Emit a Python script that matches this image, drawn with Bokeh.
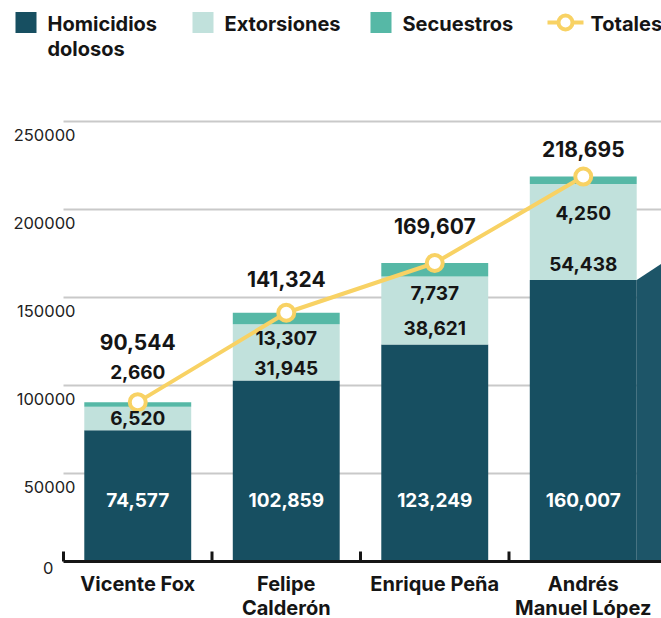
from bokeh.plotting import figure
from bokeh.models import Range1d, ColumnDataSource
from bokeh.embed import file_html
from bokeh.resources import INLINE
from bokeh.core.properties import value

# ---------------- data ----------------
categories = ["Vicente Fox", "Felipe Calderón", "Enrique Peña", "Andrés Manuel López"]
cat_line1 = ["Vicente Fox", "Felipe", "Enrique Peña", "Andrés"]
cat_line2 = ["", "Calderón", "", "Manuel López"]
homicidios = [74577, 102859, 123249, 160007]
extorsiones = [13307, 31945, 38621, 54438]
secuestros = [2660, 6520, 7737, 4250]
totales = [90544, 141324, 169607, 218695]
# labels as printed on the chart
hom_labels = ["74,577", "102,859", "123,249", "160,007"]
ext_labels = ["6,520", "31,945", "38,621", "54,438"]
sec_labels = ["2,660", "13,307", "7,737", "4,250"]
tot_labels = ["90,544", "141,324", "169,607", "218,695"]
y_ticks = [50000, 100000, 150000, 200000, 250000]
y_tick_labels = ["50000", "100000", "150000", "200000", "250000"]
legend_labels = ["Homicidios", "dolosos", "Extorsiones", "Secuestros", "Totales"]

# ---------------- style / layout ----------------
DARK = "#174f61"
LIGHT = "#c1e1dc"
TEAL = "#56b8a6"
YELLOW = "#f8d264"
SIDE = "#1d5568"
INK = "#151515"
FONT = value("Inter")
BAR_W = 0.72
tot_off = [-60, -34, -37, -28]   # px (down positive)
sec_off = [-30, 25, 30, 36]
ext_off = [-12, -12, -17, -16]

W, H = 661, 618
MARGIN = 0
X0, U = 63, 148.5          # page x of x=0, px per category
Y0, V = 561, 88 / 50000    # page y of y=0, px per unit

def dx(px):
    return (px - X0) / U

def dy(py):
    return (Y0 - py) / V

n = len(categories)
xs = [i + 0.5 for i in range(n)]
ext_top = [h + e for h, e in zip(homicidios, extorsiones)]
sec_top = [t + s for t, s in zip(ext_top, secuestros)]
zero = [0] * n

src = ColumnDataSource(dict(
    x=xs, hom=homicidios, ext_top=ext_top, sec_top=sec_top, tot=totales,
    zero=zero, hom_l=hom_labels, ext_l=ext_labels, sec_l=sec_labels,
    tot_l=tot_labels, c1=cat_line1, c2=cat_line2,
    tot_off=tot_off, sec_off=sec_off, ext_off=ext_off,
))

p = figure(width=W, height=H,
           x_range=Range1d(dx(MARGIN), dx(MARGIN + W)),
           y_range=Range1d(dy(MARGIN + H), dy(MARGIN)),
           toolbar_location=None, output_backend="svg", min_border=0)
p.axis.visible = False
p.grid.visible = False
p.outline_line_color = None

x_end = dx(MARGIN + W)

# gridlines (from x=0 to the right edge)
p.segment(x0=[0] * len(y_ticks), x1=[x_end] * len(y_ticks), y0=y_ticks, y1=y_ticks,
          line_color="#c9c9c9", line_width=2)

# y tick labels, set just below their gridlines
p.text(x=[0] * len(y_ticks), y=y_ticks, text=y_tick_labels, x_offset=12, y_offset=13,
       text_font=FONT, text_font_size="16.5px", text_color="#222222",
       text_align="right", text_baseline="middle")
p.text(x=[0], y=[0], text=["0"], x_offset=-10, y_offset=6,
       text_font=FONT, text_font_size="16.5px", text_color="#222222",
       text_align="right", text_baseline="middle")

# decorative side face of the last bar
last = n - 1
sx0 = xs[last] + BAR_W / 2
sx1 = x_end + 0.1
p.patch(x=[sx0, sx1, sx1, sx0],
        y=[homicidios[last], homicidios[last] + 55000 * (sx1 - sx0), 0, 0],
        fill_color=SIDE, line_color=None)

# stacked bars
p.vbar(x="x", bottom="zero", top="hom", width=BAR_W, source=src, fill_color=DARK, line_color=None)
p.vbar(x="x", bottom="hom", top="ext_top", width=BAR_W, source=src, fill_color=LIGHT, line_color=None)
p.vbar(x="x", bottom="ext_top", top="sec_top", width=BAR_W, source=src, fill_color=TEAL, line_color=None)

# baseline with boundary ticks
p.segment(x0=[0], x1=[x_end], y0=[0], y1=[0], line_color=INK, line_width=3)
tick_x = list(range(n))
p.segment(x0=tick_x, x1=tick_x, y0=[0] * n, y1=[10 / V] * n, line_color=INK, line_width=3)

# totals line
p.line(x="x", y="tot", source=src, line_color=YELLOW, line_width=4)
p.scatter(x="x", y="tot", source=src, size=16, fill_color="white", line_color=YELLOW, line_width=4)

common = dict(text_font=FONT, text_font_style="bold", text_align="center",
              text_baseline="middle", source=src)
p.text(x="x", y="zero", text="hom_l", y_offset=-62, text_color="white", text_font_size="19px", **common)
p.text(x="x", y="hom", text="ext_l", y_offset="ext_off", text_color=INK, text_font_size="19px", **common)
p.text(x="x", y="tot", text="sec_l", y_offset="sec_off", text_color=INK, text_font_size="19px", **common)
p.text(x="x", y="tot", text="tot_l", y_offset="tot_off", text_color=INK, text_font_size="21px", **common)
p.text(x="x", y="zero", text="c1", y_offset=22, text_color=INK, text_font_size="20px", **common)
p.text(x="x", y="zero", text="c2", y_offset=46, text_color=INK, text_font_size="20px", **common)

# legend
p.rect(x=[dx(25.5), dx(202.5), dx(380.5)], y=[dy(22)] * 3, width=21, height=21,
       width_units="screen", height_units="screen",
       fill_color=[DARK, LIGHT, TEAL], line_color=None)
p.text(x=[dx(47), dx(47), dx(224), dx(402), dx(590)],
       y=[dy(23), dy(48), dy(23), dy(23), dy(23)], text=legend_labels,
       text_font=FONT, text_font_style="bold", text_font_size="20px",
       text_color=INK, text_align="left", text_baseline="middle")
p.line(x=[dx(547), dx(583)], y=[dy(22)] * 2, line_color=YELLOW, line_width=4)
p.scatter(x=[dx(565)], y=[dy(22)], size=14, fill_color="white", line_color=YELLOW, line_width=4)

open("out.html", "w").write(file_html(p, INLINE))
